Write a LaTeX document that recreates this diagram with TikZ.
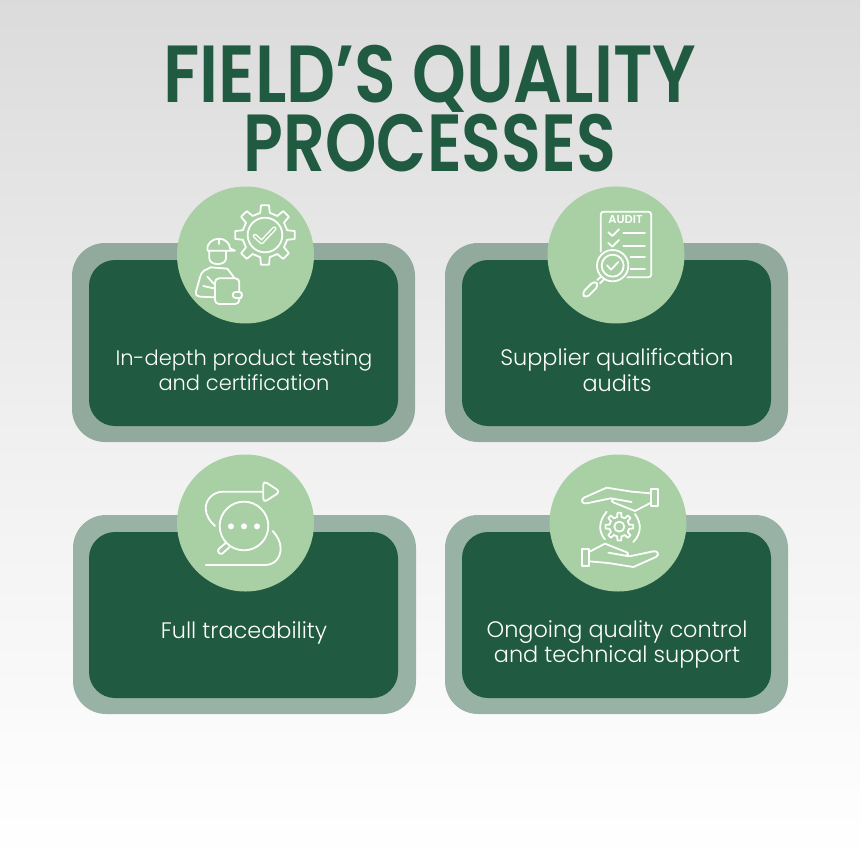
\documentclass[tikz,border=0pt]{standalone}
\usepackage{fontspec}
\setmainfont{Poppins}
\newfontfamily\titlefont[FakeStretch=0.845]{Poppins SemiBold}
\newfontfamily\titlefontb[FakeStretch=0.807]{Poppins SemiBold}
\newfontfamily\bodyfont{Poppins Light}
\newfontfamily\auditfont{Poppins SemiBold}
\definecolor{dkgreen}{HTML}{205A41}
\definecolor{ringgreen}{HTML}{98B2A5}
\definecolor{ringtop}{HTML}{92AA9E}
\definecolor{ltgreen}{HTML}{A8D0A4}
\tikzset{
  outerbox/.style={fill=ringgreen,rounded corners=33pt},
  innerbox/.style={fill=dkgreen,rounded corners=26pt},
  badge/.style={circle,fill=ltgreen,minimum size=137pt,inner sep=0pt},
  caption/.style={text=white,font=\bodyfont\fontsize{22.4pt}{25.5pt}\selectfont,align=center},
  captiontight/.style={caption,font=\bodyfont\fontsize{21pt}{25.5pt}\selectfont},
  ttl/.style={text=dkgreen,font=\titlefont\fontsize{81pt}{66.5pt}\selectfont,align=center},
  ico/.style={draw=white,line width=1.8pt,line cap=round,line join=round},
  icoscope/.style={x=0.3333pt,y=-0.3333pt,ico},
  outlinecheck/.style={draw=white,line width=1.4pt,double=ltgreen,double distance=1.7pt,line cap=round,line join=round},
}
% gear: teeth, outer radius, root radius
\newcommand{\gearico}[3]{%
  \pgfmathsetmacro{\gstep}{360/#1}
  \foreach \gi in {1,...,#1}{
    \pgfmathsetmacro{\ga}{90+\gi*\gstep}
    \pgfmathsetmacro{\gt}{\ga+0.17*\gstep}
    \pgfmathsetmacro{\gu}{\ga-0.17*\gstep}
    \pgfmathsetmacro{\gv}{\ga+0.27*\gstep}
    \pgfmathsetmacro{\gw}{\ga-0.27*\gstep}
    \pgfmathsetmacro{\gx}{\ga+\gstep-0.27*\gstep}
    \draw (\gw:#3) -- (\gu:#2) -- (\gt:#2) -- (\gv:#3) -- (\gx:#3);
  }%
}
\newcommand{\handico}{%
  \draw (333,117) rectangle (354,168);
  \draw (333,130) -- (275,125) -- (200,113) -- (132,143) .. controls (120,150) and (127,163) .. (140,160) -- (212,145) -- (275,156);
  \draw (222,147) .. controls (214,150) and (214,155) .. (222,158) -- (285,183) -- (333,158);
}
\begin{document}
\begin{tikzpicture}[x=1pt,y=-1pt]
\useasboundingbox (0,0) rectangle (860,860);
\shade[top color=black!14,bottom color=white,middle color=black!6] (0,0) rectangle (860,860);
\node[ttl] (title) at (430,108.5) {FIELD’S QUALITY\\{\titlefontb PROCESSES}};
% boxes
\fill[outerbox,fill=ringtop] (72,243) rectangle (415,442);
\fill[innerbox] (89,260) rectangle (398,426);
\fill[outerbox,fill=ringtop] (445,243) rectangle (788,442);
\fill[innerbox] (462,260) rectangle (771,426);
\fill[outerbox] (73,515) rectangle (416,714);
\fill[innerbox] (89,532) rectangle (398,698);
\fill[outerbox] (445,515) rectangle (788,714);
\fill[innerbox] (462,532) rectangle (771,698);
\node[badge] (b1) at (245.5,255) {};
\node[badge] (b2) at (616,255) {};
\node[badge] (b3) at (245.5,523) {};
\node[badge] (b4) at (618,523) {};
\node[captiontight] (t1) at (244,370) {In-depth product testing\\and certification};
\node[caption] (t2) at (617,370) {Supplier qualification\\audits};
\node[caption] (t3) at (244,633) {Full traceability};
\node[caption] (t4) at (617,644.5) {Ongoing quality control\\and technical support};
% icon 1: worker and gear
\begin{scope}[shift={(170,180)},icoscope]
  \begin{scope}[shift={(285,165)}]
    \gearico{8}{90}{68}
    \draw (0,0) circle (52);
  \end{scope}
  \draw[outlinecheck] (255,168) -- (275,186) -- (313,146);
  \draw (113,212) .. controls (108,190) and (128,176) .. (147,176) .. controls (165,176) and (180,190) .. (180,205) -- (195,212) -- cycle;
  \draw (147,178) -- (147,192);
  \draw (118,214) -- (118,235) .. controls (118,258) and (168,258) .. (168,235) -- (168,215);
  \draw (122,262) -- (102,272) .. controls (95,276) and (92,285) .. (90,292) -- (78,335) .. controls (76,345) and (82,350) .. (90,350) -- (135,352);
  \draw (122,262) -- (172,266) -- (192,292);
  \draw (100,318) -- (135,326);
  \draw (112,290) -- (132,312);
  \draw[rounded corners=4pt] (135,295) rectangle (208,372);
  \draw[fill=ltgreen,rounded corners=3pt] (208,336) -- (188,336) -- (188,354) -- (214,354);
  \draw (210,336) .. controls (218,338) and (218,352) .. (210,354);
\end{scope}
% icon 2: audit
\begin{scope}[shift={(540,180)},icoscope]
  \draw[rounded corners=3pt] (182,215) -- (182,95) -- (334,95) -- (334,292) -- (262,292);
  \node[text=white,font=\auditfont\fontsize{11.5pt}{11.5pt}\selectfont,inner sep=0pt] (audit) at (257,120) {AUDIT};
  \draw (205,157) -- (217,168) -- (237,148);
  \draw (205,189) -- (217,200) -- (237,180);
  \draw (250,160) -- (315,160);
  \draw (250,197) -- (315,197);
  \draw (272,232) -- (315,232);
  \draw (272,267) -- (315,267);
  \draw (218,257) circle (47);
  \draw (218,257) circle (33);
  \draw (201,256) -- (213,269) -- (235,246);
  \draw (184,289) -- (172,300);
  \draw (192,298) -- (180,310);
  \draw[rounded corners=4pt] (163,302) -- (125,340) -- (138,355) -- (177,316) -- cycle;
\end{scope}
% icon 3: traceability
\begin{scope}[shift={(170,450)},icoscope]
  \draw[rounded corners=4pt] (280,92) -- (331,125) -- (280,158) -- cycle;
  \draw (280,125) -- (160,125) .. controls (128,125) and (107,150) .. (107,175) .. controls (107,195) and (120,215) .. (135,228);
  \draw (222,228) circle (73);
  \draw (167,279) -- (146,297) .. controls (140,305) and (150,316) .. (158,310) -- (178,292);
  \fill[white] (183,229) circle (9) (222,229) circle (9) (261,229) circle (9);
  \draw (107,345) -- (285,345) .. controls (315,345) and (332,322) .. (332,295) .. controls (332,275) and (320,255) .. (308,243);
\end{scope}
% icon 4: hands and gear
\begin{scope}[shift={(540,450)},icoscope]
  \handico
  \begin{scope}[rotate around={180:(240,232)}]
    \handico
  \end{scope}
  \begin{scope}[shift={(238,230)}]
    \gearico{8}{42}{30}
    \draw (0,0) circle (15);
  \end{scope}
  \draw (200,185) .. controls (175,215) and (175,245) .. (195,268);
  \draw (285,192) .. controls (305,220) and (305,250) .. (280,276);
\end{scope}
\end{tikzpicture}
\end{document}
